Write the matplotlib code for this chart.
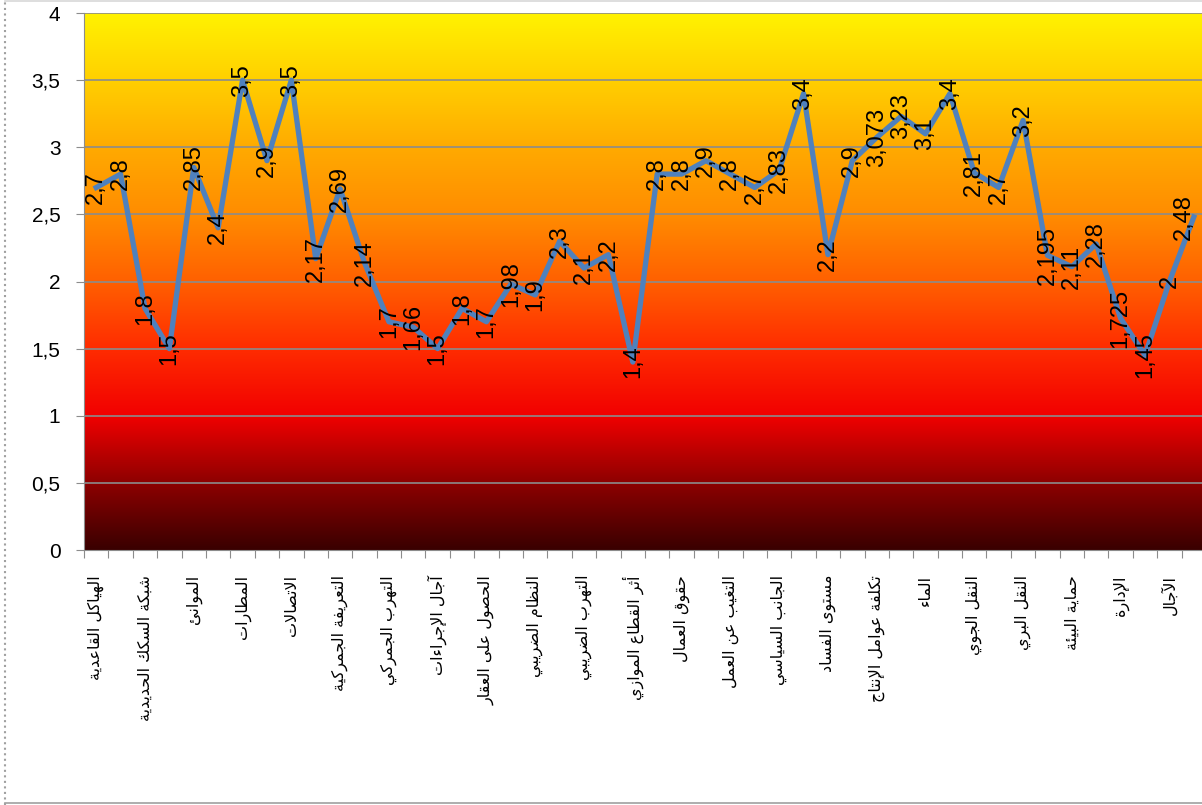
import matplotlib
matplotlib.use("Agg")
import matplotlib.pyplot as plt
import numpy as np
from matplotlib.colors import LinearSegmentedColormap
from matplotlib.lines import Line2D

# score of every indicator, in axis order
values = [2.7, 2.8, 1.8, 1.5, 2.85, 2.4, 3.5, 2.9, 3.5, 2.17, 2.69, 2.14,
          1.7, 1.66, 1.5, 1.8, 1.7, 1.98, 1.9, 2.3, 2.1, 2.2, 1.4, 2.8,
          2.8, 2.9, 2.8, 2.7, 2.83, 3.4, 2.2, 2.9, 3.073, 3.23, 3.1, 3.4,
          2.81, 2.7, 3.2, 2.195, 2.11, 2.28, 1.725, 1.45, 2, 2.48]

# only every second category name is printed on the axis
shown_labels = ["الهياكل القاعدية", "شبكة السكك الحديدية", "الموانئ", "المطارات",
                "الاتصالات", "التعريفة الجمركية", "التهرب الجمركي", "آجال الإجراءات",
                "الحصول على العقار", "النظام الضريبي", "التهرب الضريبي",
                "أثر القطاع الموازي", "حقوق العمال", "التغيب عن العمل",
                "الجانب السياسي", "مستوى الفساد", "تكلفة عوامل الإنتاج", "الماء",
                "النقل الجوي", "النقل البري", "حماية البيئة", "الإدارة", "الآجال"]

y_ticks = [0, 0.5, 1, 1.5, 2, 2.5, 3, 3.5, 4]

# matplotlib does no arabic shaping, so map letters to presentation forms by hand
_BASE = "ءآأؤإئابةتثجحخدذرزسشصضطظعغفقكلمنهوىي"
_NFORMS = [1, 2, 2, 2, 2, 4, 2, 4, 2, 4, 4, 4, 4, 4, 2, 2, 2, 2,
           4, 4, 4, 4, 4, 4, 4, 4, 4, 4, 4, 4, 4, 4, 4, 2, 2, 4]
FORMS = {}
_code = 0xFE80
for ch, k in zip(_BASE, _NFORMS):
    FORMS[ch] = (_code, k)
    _code += k
LAM_ALEF = {"آ": 0xFEF5, "أ": 0xFEF7, "إ": 0xFEF9, "ا": 0xFEFB}


def _dual(c):
    return c in FORMS and FORMS[c][1] == 4


def _joins(c):
    return c in FORMS and FORMS[c][1] > 1


def shape(text):
    out = []
    i, n = 0, len(text)
    while i < n:
        c = text[i]
        if c not in FORMS:
            out.append(c)
            i += 1
            continue
        prev = text[i - 1] if i > 0 else " "
        link_prev = _dual(prev) and _joins(c)
        if c == "ل" and i + 1 < n and text[i + 1] in LAM_ALEF:
            out.append(chr(LAM_ALEF[text[i + 1]] + (1 if link_prev else 0)))
            i += 2
            continue
        nxt = text[i + 1] if i + 1 < n else " "
        link_next = _dual(c) and _joins(nxt)
        base, k = FORMS[c]
        if link_prev and link_next:
            f = 3
        elif link_prev:
            f = 1
        elif link_next:
            f = 2
        else:
            f = 0
        out.append(chr(base + f) if k > 1 else chr(base))
        i += 1
    return "".join(reversed(out))


fig = plt.figure(figsize=(12.02, 8.05), dpi=100)
ax = fig.add_axes([84 / 1202, 1 - 550 / 805, 1122 / 1202, 537 / 805])

x = np.arange(len(values))
ax.set_xlim(-0.5, len(values) - 0.5)
ax.set_ylim(0, 4)

# dark red -> red -> orange -> yellow background
grad = LinearSegmentedColormap.from_list("heat", [
    (0.0, "#3a0000"), (0.125, "#8e0000"), (0.25, "#f20000"),
    (0.375, "#ff2c00"), (0.5, "#ff6000"), (0.625, "#ff8c00"),
    (0.75, "#ffaa00"), (0.875, "#ffcf00"), (1.0, "#fff200")])
ax.imshow(np.linspace(0, 1, 256).reshape(-1, 1), cmap=grad, origin="lower",
          aspect="auto", extent=[-0.5, len(values) - 0.5, 0, 4], zorder=0)

for yv in y_ticks[1:]:
    ax.axhline(yv, color="#8c8c8c", lw=1.2, zorder=1)

ax.plot(x, values, color="#4f81bd", lw=3.8, solid_joinstyle="round", zorder=3)

for i, (xi, v) in enumerate(zip(x, values)):
    # the last label is pulled in so it stays inside the chart
    dx = -7 if i == len(values) - 1 else 0
    ax.annotate(f"{v:g}".replace(".", ","), (xi, v), xytext=(dx, 0),
                textcoords="offset points", rotation=90, ha="center",
                va="center", fontsize=17, family="Liberation Sans",
                color="black", zorder=4)

ax.set_yticks(y_ticks)
ax.set_yticklabels([f"{t:g}".replace(".", ",") for t in y_ticks],
                   fontsize=15, family="Liberation Sans")
ax.tick_params(axis="y", length=6, color="#8c8c8c", pad=11)

ax.set_xticks(np.arange(-0.5, len(values), 1))
ax.set_xticklabels([])
ax.tick_params(axis="x", which="major", length=6, color="#8c8c8c")
ax.set_xticks(x[::2], minor=True)
ax.set_xticklabels([shape(s) for s in shown_labels], minor=True, rotation=90,
                   fontsize=11.5, family="DejaVu Sans", va="top")
ax.tick_params(axis="x", which="minor", length=0, pad=18)

for side in ["top", "right"]:
    ax.spines[side].set_visible(False)
for side in ["left", "bottom"]:
    ax.spines[side].set_color("#8c8c8c")

# outer chart frame
fig.add_artist(Line2D([5 / 1202, 5 / 1202], [0, 1], color="#a0a0a0", lw=1.5,
                      ls=":", transform=fig.transFigure))
fig.add_artist(Line2D([5 / 1202, 1], [2 / 805, 2 / 805], color="#a0a0a0",
                      lw=1.2, transform=fig.transFigure))
fig.add_artist(Line2D([5 / 1202, 1], [804 / 805, 804 / 805], color="#d8d8d8",
                      lw=1.2, transform=fig.transFigure))

fig.savefig("out.png", dpi=100)
